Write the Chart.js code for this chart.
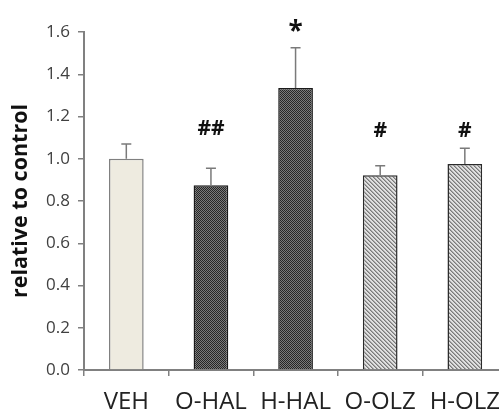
<!DOCTYPE html>
<html>
<head>
<meta charset="utf-8">
<script src="https://cdn.jsdelivr.net/npm/chart.js@4"></script>
<style>
  html, body { margin: 0; padding: 0; background: #fff; overflow: hidden; }
  #wrap { width: 499px; height: 413px; overflow: hidden; }
</style>
</head>
<body>
<div id="wrap"><canvas id="myBarChart" width="512" height="413"></canvas></div>
<script>
const groups = ["VEH", "O-HAL", "H-HAL", "O-OLZ", "H-OLZ"];
const means = [1.0, 0.875, 1.335, 0.922, 0.975];
const errors = [0.07, 0.08, 0.19, 0.045, 0.075];
const marks = ["", "##", "*", "#", "#"];
const markLevels = [null, 1.14, 1.595, 1.13, 1.13];
const yTicks = [0, 0.2, 0.4, 0.6, 0.8, 1.0, 1.2, 1.4, 1.6];

// fill patterns
function checker() {
    const c = document.createElement("canvas");
    c.width = 2; c.height = 2;
    const g = c.getContext("2d");
    g.fillStyle = "#7a7a7a"; g.fillRect(0, 0, 2, 2);
    g.fillStyle = "#262626"; g.fillRect(0, 0, 1, 1); g.fillRect(1, 1, 1, 1);
    return g.createPattern(c, "repeat");
}
function hatch() {
    const c = document.createElement("canvas");
    c.width = 4; c.height = 4;
    const g = c.getContext("2d");
    g.fillStyle = "#e0e0e0"; g.fillRect(0, 0, 4, 4);
    g.fillStyle = "#7a7a7a";
    for (let i = 0; i < 4; i++) g.fillRect(i, i, 1, 1);
    g.fillStyle = "#a8a8a8";
    for (let i = 0; i < 4; i++) g.fillRect((i + 1) % 4, i, 1, 1);
    return g.createPattern(c, "repeat");
}
const barColors = ["#eeebe0", checker(), checker(), hatch(), hatch()];
const borderColors = ["#808080", "#1a1a1a", "#1a1a1a", "#2a2a2a", "#2a2a2a"];

const errorBars = {
    id: "errorBars",
    afterDatasetsDraw(chart) {
        const ctx = chart.ctx;
        const y = chart.scales.y;
        const meta = chart.getDatasetMeta(0);
        ctx.save();
        meta.data.forEach((bar, i) => {
            const top = y.getPixelForValue(means[i]);
            const end = y.getPixelForValue(means[i] + errors[i]);
            ctx.strokeStyle = "#7a7a7a";
            ctx.lineWidth = 1.5;
            ctx.beginPath();
            ctx.moveTo(bar.x, top);
            ctx.lineTo(bar.x, end);
            ctx.moveTo(bar.x - 5, end);
            ctx.lineTo(bar.x + 5, end);
            ctx.stroke();
            if (marks[i]) {
                ctx.fillStyle = "#111";
                ctx.textAlign = "center";
                ctx.textBaseline = "middle";
                ctx.font = marks[i] === "*" ? "bold 26px 'Open Sans'" : "bold 21px 'Open Sans'";
                ctx.fillText(marks[i], bar.x, y.getPixelForValue(markLevels[i]));
            }
        });
        ctx.restore();
    }
};

new Chart("myBarChart", {
    type: "bar",
    data: {
        labels: groups,
        datasets: [{
            data: means,
            backgroundColor: barColors,
            borderColor: borderColors,
            borderWidth: 1.5,
            barPercentage: 0.41,
            categoryPercentage: 1.0
        }]
    },
    options: {
        responsive: false,
        animation: false,
        events: [],
        layout: { padding: { top: 32, right: 0, left: 4, bottom: 0 } },
        plugins: {
            legend: { display: false },
            tooltip: { enabled: false }
        },
        scales: {
            x: {
                offset: true,
                afterFit(scale) { scale.height = 43; },
                grid: {
                    offset: true,
                    drawOnChartArea: false,
                    color: "#808080",
                    lineWidth: 1.5,
                    tickLength: 6
                },
                border: { color: "#808080", width: 2 },
                ticks: {
                    color: "#222",
                    font: { family: "'Open Sans'", size: 24 },
                    padding: 12,
                    maxRotation: 0,
                    autoSkip: false
                }
            },
            y: {
                min: 0,
                max: 1.6,
                afterFit(scale) { scale.width = 80; },
                afterBuildTicks(scale) { scale.ticks = yTicks.map(v => ({ value: v })); },
                grid: {
                    drawOnChartArea: false,
                    color: "#808080",
                    lineWidth: 1.5,
                    tickLength: 6
                },
                border: { color: "#808080", width: 2 },
                ticks: {
                    color: "#404040",
                    font: { family: "'Open Sans'", size: 17 },
                    padding: 8,
                    callback: v => v.toFixed(1)
                },
                title: {
                    display: true,
                    text: "relative to control",
                    color: "#111",
                    font: { family: "'Open Sans'", size: 21.5, weight: "bold" },
                    padding: { top: 4, bottom: 0 }
                }
            }
        }
    },
    plugins: [errorBars]
});
</script>
</body>
</html>
